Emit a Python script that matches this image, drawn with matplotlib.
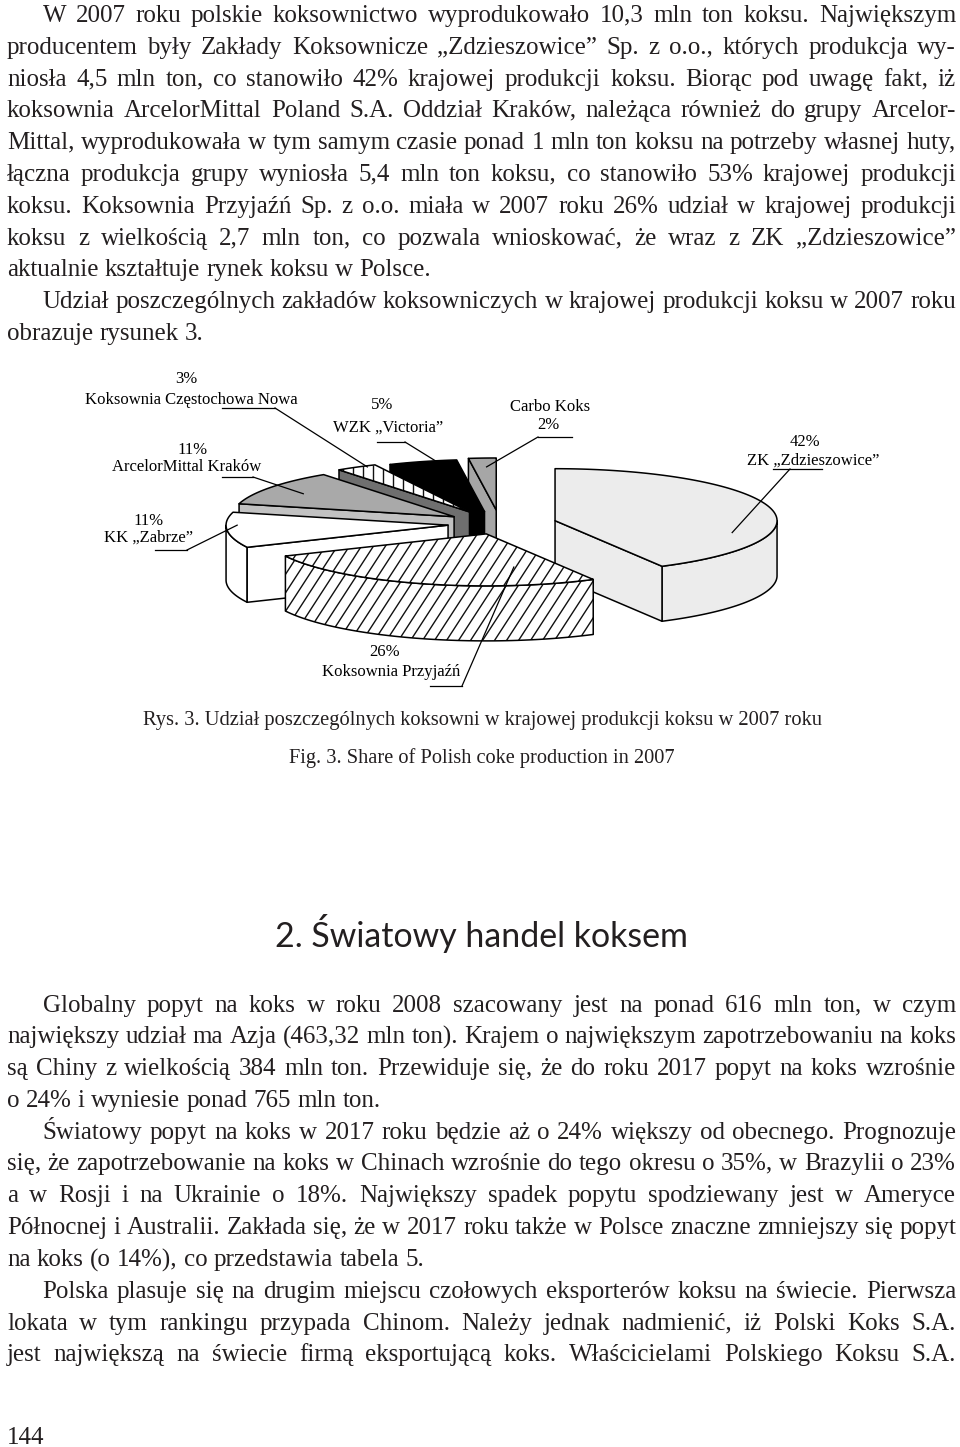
import numpy as np
import matplotlib
matplotlib.use("Agg")
import matplotlib.pyplot as plt
from matplotlib.patches import Polygon
from matplotlib.collections import LineCollection
from matplotlib.font_manager import FontProperties

# --- dane wykresu (Rys. 3) ---
shares = [42, 26, 11, 11, 3, 5, 2]
plants = ["ZK „Zdzieszowice”", "Koksownia Przyjaźń", "KK „Zabrze”",
          "ArcelorMittal Kraków", "Koksownia Częstochowa Nowa",
          "WZK „Victoria”", "Carbo Koks"]

# --- tekst strony ---
para_top = [
    (True, True, "W 2007 roku polskie koksownictwo wyprodukowało 10,3 mln ton koksu. Największym"),
    (False, True, "producentem były Zakłady Koksownicze „Zdzieszowice” Sp. z o.o., których produkcja wy-"),
    (False, True, "niosła 4,5 mln ton, co stanowiło 42% krajowej produkcji koksu. Biorąc pod uwagę fakt, iż"),
    (False, True, "koksownia ArcelorMittal Poland S.A. Oddział Kraków, należąca również do grupy Arcelor-"),
    (False, True, "Mittal, wyprodukowała w tym samym czasie ponad 1 mln ton koksu na potrzeby własnej huty,"),
    (False, True, "łączna produkcja grupy wyniosła 5,4 mln ton koksu, co stanowiło 53% krajowej produkcji"),
    (False, True, "koksu. Koksownia Przyjaźń Sp. z o.o. miała w 2007 roku 26% udział w krajowej produkcji"),
    (False, True, "koksu z wielkością 2,7 mln ton, co pozwala wnioskować, że wraz z ZK „Zdzieszowice”"),
    (False, False, "aktualnie kształtuje rynek koksu w Polsce."),
    (True, True, "Udział poszczególnych zakładów koksowniczych w krajowej produkcji koksu w 2007 roku"),
    (False, False, "obrazuje rysunek 3."),
]
para_bottom = [
    (True, True, "Globalny popyt na koks w roku 2008 szacowany jest na ponad 616 mln ton, w czym"),
    (False, True, "największy udział ma Azja (463,32 mln ton). Krajem o największym zapotrzebowaniu na koks"),
    (False, True, "są Chiny z wielkością 384 mln ton. Przewiduje się, że do roku 2017 popyt na koks wzrośnie"),
    (False, False, "o 24% i wyniesie ponad 765 mln ton."),
    (True, True, "Światowy popyt na koks w 2017 roku będzie aż o 24% większy od obecnego. Prognozuje"),
    (False, True, "się, że zapotrzebowanie na koks w Chinach wzrośnie do tego okresu o 35%, w Brazylii o 23%"),
    (False, True, "a w Rosji i na Ukrainie o 18%. Największy spadek popytu spodziewany jest w Ameryce"),
    (False, True, "Północnej i Australii. Zakłada się, że w 2017 roku także w Polsce znaczne zmniejszy się popyt"),
    (False, False, "na koks (o 14%), co przedstawia tabela 5."),
    (True, True, "Polska plasuje się na drugim miejscu czołowych eksporterów koksu na świecie. Pierwsza"),
    (False, True, "lokata w tym rankingu przypada Chinom. Należy jednak nadmienić, iż Polski Koks S.A."),
    (False, True, "jest największą na świecie firmą eksportującą koks. Właścicielami Polskiego Koksu S.A."),
]
caption_pl = "Rys. 3. Udział poszczególnych koksowni w krajowej produkcji koksu w 2007 roku"
caption_en = "Fig. 3. Share of Polish coke production in 2007"
heading = "2. Światowy handel koksem"
page_no = "144"

# --- wyglad ---
INK = "#231f20"
SERIF = "Liberation Serif"
BODY = 18
PITCH = 31.8
X_LEFT, X_INDENT, X_RIGHT = 7, 42.5, 956
PAGE_H = 1447

CX, CY = 500, 524          # srodek tortu (px)
RA, RB, DEPTH = 222, 52, 55
explode = [0.256, 0.2, 0.235, 0.25, 0.27, 0.25, 0.27]
top_fc = ["#ececec", "white", "white", "#a9a9a9", "white", "black", "#a6a6a6"]
side_fc = ["#ececec", "white", "white", "#c2c2c2", "#6f6f6f", "black", "#a6a6a6"]
top_hatch = [None, "diag", None, None, "vert", None, None]
side_hatch = [None, "diag", None, None, None, None, None]

# opisy: (xy procentu, xy nazwy, podkreslenie x0, x1, y, x zalamania, kat celu, promien celu)
label_pos = [
    ((805, 442), (813, 461), 773, 822, 469, 790, -16, 0.83),
    ((385, 652), (391, 672), 430, 462, 686, 462, -79, 0.65),
    ((149, 521), (148, 538), 155, 187, 550, 187, 180, 0.95),
    ((193, 450), (187, 467), 222, 253, 477, 253, 147, 0.81),
    ((186, 379), (191, 400), 222, 275, 408, 275, 118, 0.98),
    ((382, 405), (388, 428), 377, 405, 442, 405, 99, 0.68),
    ((548, 425), (550, 407), 538, 572, 437, 538, 93, 0.83),
]

fig = plt.figure(figsize=(9.6, 14.47), dpi=100)
ax = fig.add_axes([0, 0, 1, 1])
ax.set_xlim(0, 960)
ax.set_ylim(PAGE_H, 0)
ax.axis("off")
renderer = fig.canvas.get_renderer()


def measure(s, size, family=SERIF):
    t = ax.text(0, 0, s, fontsize=size, family=family)
    w = t.get_window_extent(renderer).width
    t.remove()
    return w


def snapped(word, y, size):
    # Agg rounds each word's bitmap on its own; shift so every baseline lands on row y
    fp = FontProperties(family=SERIF, size=size)
    _, h, d = renderer.get_text_width_height_descent(word, fp, ismath=False)
    return y + np.floor(h) - np.floor(h - d) - d


def put_line(text, y, indent, justify, size=BODY):
    words = text.split(" ")
    widths = [measure(w, size) for w in words]
    x0 = X_INDENT if indent else X_LEFT
    if justify and len(words) > 1:
        gap = (X_RIGHT - x0 - sum(widths)) / (len(words) - 1)
    else:
        gap = measure("a a", size) - measure("aa", size)
    x = x0
    for w, wd in zip(words, widths):
        ax.text(x, snapped(w, y, size), w, fontsize=size, family=SERIF,
                color=INK, ha="left", va="baseline")
        x += wd + gap


def put_fitted(text, xc, y, width, family):
    size = 20 * width / measure(text, 20, family)
    ax.text(xc, y, text, fontsize=size, family=family, color=INK,
            ha="center", va="baseline")


for k, (ind, just, line) in enumerate(para_top):
    put_line(line, round(22 + k * PITCH), ind, just)
for k, (ind, just, line) in enumerate(para_bottom):
    put_line(line, round(1011.5 + k * PITCH), ind, just)

put_fitted(caption_pl, 482.5, 725, 679, SERIF)
put_fitted(caption_en, 482, 763, 386, SERIF)
put_fitted(heading, 481.5, 947, 413, "Lato")
ax.text(X_LEFT, 1444, page_no, fontsize=BODY, family=SERIF, color=INK,
        ha="left", va="baseline")

# --- tort 3D ---
zc = [2]


def hatch_lines(patch, pts, kind):
    x0, y0 = pts.min(axis=0)
    x1, y1 = pts.max(axis=0)
    segs = []
    if kind == "diag":
        k, step = 0.65, 12
        for c in np.arange(x0 - k * (y1 - y0) - step, x1 + step, step):
            segs.append([(c, y1), (c + k * (y1 - y0), y0)])
    else:
        for c in np.arange(x0 + 4, x1, 10):
            segs.append([(c, y0), (c, y1)])
    lc = LineCollection(segs, colors="#111111", linewidths=1.0, zorder=zc[0])
    ax.add_collection(lc)
    lc.set_clip_path(patch)


def add_face(pts, fc, hatch):
    pts = np.asarray(pts, dtype=float)
    p = Polygon(pts, closed=True, fc=fc, ec="none", zorder=zc[0])
    ax.add_patch(p)
    if hatch:
        hatch_lines(p, pts, hatch)
    ax.add_patch(Polygon(pts, closed=True, fc="none", ec="black", lw=1.1,
                         joinstyle="round", zorder=zc[0]))
    zc[0] += 1


def front_arcs(lo, hi):
    arcs = []
    for k in range(-2, 3):
        a, b = max(lo, -180 + 360 * k), min(hi, 360 * k)
        if b > a:
            arcs.append((a, b))
    return arcs


slices = []
start = 90.0
for i, v in enumerate(shares):
    hi, lo = start, start - 3.6 * v
    start = lo
    m = np.radians((hi + lo) / 2)
    apx = CX + explode[i] * RA * np.cos(m)
    apy = CY - explode[i] * RB * np.sin(m)
    slices.append((i, lo, hi, apx, apy))

for i, lo, hi, apx, apy in sorted(slices, key=lambda s: s[4]):
    for a, b in front_arcs(lo, hi):
        t = np.radians(np.linspace(a, b, 60))
        xs, ys = apx + RA * np.cos(t), apy - RB * np.sin(t)
        pts = np.r_[np.c_[xs, ys], np.c_[xs[::-1], ys[::-1] + DEPTH]]
        add_face(pts, side_fc[i], side_hatch[i])
    for ang, vis in ((lo, np.cos(np.radians(lo)) > 1e-9),
                     (hi, np.cos(np.radians(hi)) < -1e-9)):
        if vis:
            ex = apx + RA * np.cos(np.radians(ang))
            ey = apy - RB * np.sin(np.radians(ang))
            add_face([(apx, apy), (ex, ey), (ex, ey + DEPTH), (apx, apy + DEPTH)],
                     side_fc[i], side_hatch[i])
    t = np.radians(np.linspace(lo, hi, 120))
    pts = np.r_[[[apx, apy]], np.c_[apx + RA * np.cos(t), apy - RB * np.sin(t)]]
    add_face(pts, top_fc[i], top_hatch[i])

# --- opisy z odnosnikami ---
apex = {s[0]: (s[3], s[4]) for s in slices}
for i, (pxy, nxy, ux0, ux1, uy, jx, tang, tr) in enumerate(label_pos):
    ax.text(*pxy, f"{shares[i]}%", fontsize=12, family=SERIF, color="black",
            ha="center", va="center", zorder=50)
    ax.text(*nxy, plants[i], fontsize=12, family=SERIF, color="black",
            ha="center", va="center", zorder=50)
    apx, apy = apex[i]
    tx = apx + tr * RA * np.cos(np.radians(tang))
    ty = apy - tr * RB * np.sin(np.radians(tang))
    ax.plot([ux0, ux1], [uy, uy], color="black", lw=0.9, zorder=60)
    ax.plot([jx, tx], [uy, ty], color="black", lw=0.9, zorder=60)

fig.savefig("out.png", dpi=100)
